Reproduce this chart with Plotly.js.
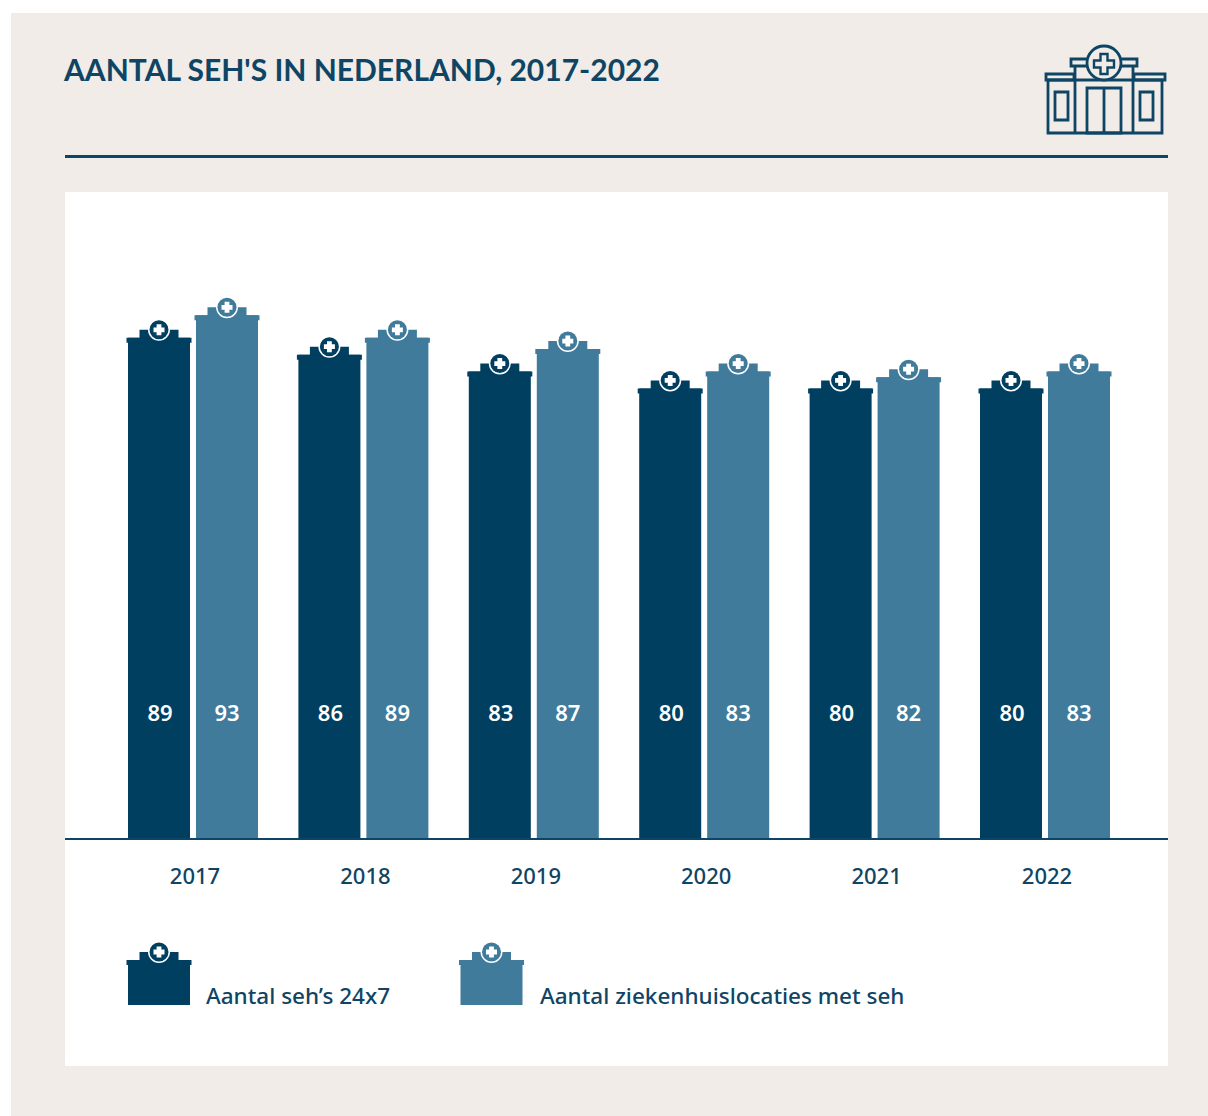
<!DOCTYPE html>
<html><head><meta charset="utf-8">
<script src="https://cdn.plot.ly/plotly-3.0.1.min.js"></script>
<style>html,body{margin:0;padding:0;background:#fff}#c{width:1208px;height:1116px}</style>
</head><body><div id="c"></div>
<script>
const years = [2017, 2018, 2019, 2020, 2021, 2022];
const seh24x7 = [89, 86, 83, 80, 80, 80];
const locaties = [93, 89, 87, 83, 82, 83];
const seriesNames = ["Aantal seh’s 24x7", "Aantal ziekenhuislocaties met seh"];
const titleText = "AANTAL SEH'S IN NEDERLAND, 2017-2022";

const DARK = "#003f5f", LIGHT = "#417b9c", BEIGE = "#f1ece8", INK = "#0f4564";
const W = 1208, H = 1116, L = 65, R = 1168, T = 192, B = 838;
const px = x => (x - L) / (R - L);
const py = y => (B - y) / (B - T);
const unit = 170.4, x0 = 193;
const xRange = [2017 - (x0 - L) / unit, 2017 + (R - x0) / unit];
const yRange = [0, (B - T) / 5.62];
const off = 34 / unit;

const shapes = [];
const rectP = (x0_, y0_, x1_, y1_, fill, layer) => shapes.push({type: "rect", xref: "paper", yref: "paper",
  x0: px(x0_), x1: px(x1_), y0: py(y0_), y1: py(y1_), fillcolor: fill, line: {width: 0}, layer: layer || "below"});

rectP(11, 13, 1208, 1116, BEIGE);
rectP(L, T, R, 1066, "#ffffff");
rectP(65, 155, 1168, 158, INK);

function cap(xv, yv, color, xref, yref) {
  const base = {xref: xref, yref: yref, xsizemode: "pixel", ysizemode: "pixel", xanchor: xv, yanchor: yv, layer: "above"};
  shapes.push(Object.assign({}, base, {type: "path", path: "M -32.5 0 H 32.5 V -5 H -32.5 Z", fillcolor: color, line: {width: 0}}));
  shapes.push(Object.assign({}, base, {type: "path", path: "M -19.5 -1 H 19.5 V 8 H -19.5 Z", fillcolor: color, line: {width: 0}}));
  shapes.push(Object.assign({}, base, {type: "circle", x0: -11, x1: 11, y0: -3, y1: 19, fillcolor: "#ffffff", line: {width: 0}}));
  shapes.push(Object.assign({}, base, {type: "circle", x0: -9.5, x1: 9.5, y0: -1.5, y1: 17.5, fillcolor: color, line: {width: 0}}));
  shapes.push(Object.assign({}, base, {type: "path", path: "M -2.4 2.5 H 2.4 V 5.6 H 5.5 V 10.4 H 2.4 V 13.5 H -2.4 V 10.4 H -5.5 V 5.6 H -2.4 Z", fillcolor: "#ffffff", line: {width: 0}}));
}
years.forEach((y, i) => {
  cap(y - off, seh24x7[i], DARK, "x", "y");
  cap(y + off, locaties[i], LIGHT, "x", "y");
});
[[159, DARK], [491.5, LIGHT]].forEach(([cx, col]) => {
  rectP(cx - 31, 960, cx + 31, 1005, col, "above");
  cap(px(cx), py(960), col, "paper", "paper");
});
const iconLine = {color: INK, width: 2.8};
const box = (a, b, c, d) => shapes.push({type: "rect", xref: "paper", yref: "paper", x0: px(a), x1: px(c), y0: py(b), y1: py(d), line: iconLine, fillcolor: "rgba(0,0,0,0)", layer: "above"});
const seg = (a, b, c, d) => shapes.push({type: "line", xref: "paper", yref: "paper", x0: px(a), x1: px(c), y0: py(b), y1: py(d), line: iconLine, layer: "above"});
box(1048, 80, 1162, 133);
box(1046, 74, 1074, 80);
box(1134, 74, 1165, 80);
seg(1075, 66, 1075, 133);
seg(1133, 66, 1133, 133);
box(1071, 59, 1137, 66);
box(1055, 92, 1068, 120);
box(1140, 92, 1153, 120);
box(1087, 88, 1121, 133);
seg(1104, 88, 1104, 133);
shapes.push({type: "circle", xref: "paper", yref: "paper", x0: px(1087), x1: px(1121), y0: py(46), y1: py(80), fillcolor: BEIGE, line: iconLine, layer: "above"});
shapes.push({type: "path", xref: "paper", yref: "paper", xsizemode: "pixel", ysizemode: "pixel", xanchor: px(1104), yanchor: py(64),
  path: "M -3.5 -10 H 3.5 V -3.5 H 10 V 3.5 H 3.5 V 10 H -3.5 V 3.5 H -10 V -3.5 H -3.5 Z", fillcolor: "rgba(0,0,0,0)", line: {color: INK, width: 2.4}, layer: "above"});

const labelY = (B - 715) / 5.62;
const labelFont = {family: "'Noto Sans', sans-serif", size: 22, color: "#fff", weight: 600};
const data = [
  {type: "bar", x: years, y: seh24x7, name: seriesNames[0], marker: {color: DARK}, hoverinfo: "x+y"},
  {type: "bar", x: years, y: locaties, name: seriesNames[1], marker: {color: LIGHT}, hoverinfo: "x+y"},
  {type: "scatter", mode: "text", x: years.map(y => y - off + 0.006), y: years.map(() => labelY), text: seh24x7.map(String),
   textposition: "middle center", textfont: labelFont, hoverinfo: "skip"},
  {type: "scatter", mode: "text", x: years.map(y => y + off), y: years.map(() => labelY), text: locaties.map(String),
   textposition: "middle center", textfont: labelFont, hoverinfo: "skip"}
];
const layout = {
  width: W, height: H, showlegend: false,
  margin: {l: L, r: W - R, t: T, b: H - B, pad: 0},
  paper_bgcolor: "#ffffff", plot_bgcolor: "rgba(0,0,0,0)",
  barmode: "group", bargap: 0.202, bargroupgap: 0.088,
  title: {text: titleText, xref: "container", yref: "container", x: 64 / W, xanchor: "left", y: 1 - 70 / H, yanchor: "middle",
    font: {family: "Lato, sans-serif", size: 30, weight: 700, color: INK}},
  xaxis: {range: xRange, tickvals: years, ticktext: years.map(String), showgrid: false, zeroline: false,
    showline: true, linecolor: INK, linewidth: 2, ticks: "", ticklabelshift: 2, ticklabelstandoff: 18,
    tickfont: {family: "'Noto Sans', sans-serif", size: 22, weight: 500, color: INK}},
  yaxis: {range: yRange, visible: false, fixedrange: true},
  shapes: shapes,
  annotations: [
    {xref: "paper", yref: "paper", x: px(204), y: py(995), xanchor: "left", yanchor: "middle", showarrow: false, text: seriesNames[0], font: {family: "'Noto Sans', sans-serif", size: 22.5, weight: 500, color: INK}},
    {xref: "paper", yref: "paper", x: px(538), y: py(995), xanchor: "left", yanchor: "middle", showarrow: false, text: seriesNames[1], font: {family: "'Noto Sans', sans-serif", size: 22.5, weight: 500, color: INK}}
  ]
};
Plotly.newPlot("c", data, layout, {displayModeBar: false, staticPlot: true});
</script></body></html>
